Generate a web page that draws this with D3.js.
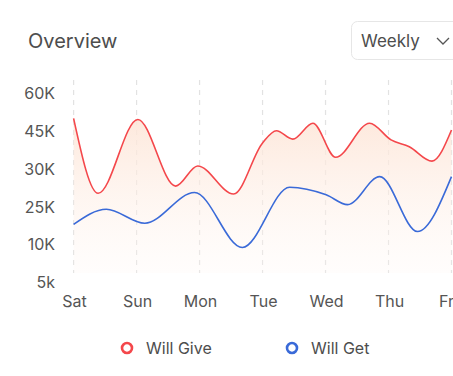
<!DOCTYPE html>
<html>
<head>
<meta charset="utf-8">
<script src="https://cdn.jsdelivr.net/npm/d3@7"></script>
<style>
  body { margin: 0; background: #fff; font-family: Inter, "Open Sans", sans-serif; }
  svg { display: block; }
</style>
</head>
<body>
<svg id="chart" width="453" height="376"></svg>
<script>
// day labels on the x axis
const days = ["Sat", "Sun", "Mon", "Tue", "Wed", "Thu", "Fri"];
// y tick labels (evenly spaced in the original)
const yTicks = [10, 20, 30, 40, 50, 60];
const yLabels = ["5k", "10K", "25K", "30K", "45K", "60K"];

// Will Give (red) - x in day units, y in tick units
const giveX = [0, 0.39, 1.02, 1.62, 1.97, 2.54, 3.0, 3.22, 3.48, 3.80, 4.16, 4.70, 5.04, 5.33, 5.69, 6.0];
const giveY = [53.4, 33.6, 53.1, 35.5, 40.8, 33.4, 46.9, 50.1, 47.9, 52.1, 43.1, 52.1, 47.7, 45.9, 42.1, 50.3];

// Will Get (blue)
const getX = [0, 0.52, 1.13, 1.92, 2.68, 3.43, 4.01, 4.35, 4.86, 5.46, 6.0];
const getY = [25.4, 29.4, 25.7, 33.8, 19.3, 35.2, 33.2, 30.6, 38.0, 23.5, 38.0];

const series = [
    {name: "Will Give", color: "#f4474b", x: giveX, y: giveY},
    {name: "Will Get", color: "#3a6ad8", x: getX, y: getY}
];

const svg = d3.select("#chart");
const plotTop = 80, plotBottom = 273;

const xScale = d3.scaleLinear().domain([0, days.length - 1]).range([73.6, 451.5]);
const yScale = d3.scaleLinear().domain([10, 60]).range([282.7, 93.3]);

// title
svg.append("text")
    .attr("x", 28).attr("y", 48)
    .attr("font-size", "20px")
    .attr("fill", "#4d4d4d")
    .text("Overview");

// dropdown
const dd = svg.append("g");
dd.append("rect")
    .attr("x", 351.5).attr("y", 21.5)
    .attr("width", 120).attr("height", 38)
    .attr("rx", 6)
    .attr("fill", "#fff")
    .attr("stroke", "#e6e6e6");
dd.append("text")
    .attr("x", 361).attr("y", 47)
    .attr("font-size", "17px")
    .attr("fill", "#4d4d4d")
    .text("Weekly");
dd.append("path")
    .attr("d", "M437,38 L443,44 L449,38")
    .attr("fill", "none")
    .attr("stroke", "#555")
    .attr("stroke-width", 1.3);

// gradient under the red line
const defs = svg.append("defs");
const grad = defs.append("linearGradient")
    .attr("id", "fillGrad")
    .attr("x1", 0).attr("y1", 0).attr("x2", 0).attr("y2", 1);
grad.append("stop").attr("offset", "0%").attr("stop-color", "#fde6d8").attr("stop-opacity", 0.9);
grad.append("stop").attr("offset", "100%").attr("stop-color", "#fff5f0").attr("stop-opacity", 0.2);

// vertical dashed grid
svg.append("g")
    .selectAll("line")
    .data(days)
    .join("line")
    .attr("x1", (d, i) => xScale(i)).attr("x2", (d, i) => xScale(i))
    .attr("y1", plotTop).attr("y2", plotBottom)
    .attr("stroke", "#e2e2e2")
    .attr("stroke-width", 1.2)
    .attr("stroke-dasharray", "5,5");

// y axis labels
svg.append("g")
    .selectAll("text")
    .data(yTicks)
    .join("text")
    .attr("x", 55)
    .attr("y", d => yScale(d))
    .attr("dy", "0.35em")
    .attr("text-anchor", "end")
    .attr("font-size", "16px")
    .attr("fill", "#555")
    .text((d, i) => yLabels[i]);

// x axis labels (last one nudged in a bit, like the original)
svg.append("g")
    .selectAll("text")
    .data(days)
    .join("text")
    .attr("x", (d, i) => xScale(i) + (i === days.length - 1 ? -3 : 1))
    .attr("y", 307)
    .attr("text-anchor", "middle")
    .attr("font-size", "16px")
    .attr("fill", "#555")
    .text(d => d);

const pts = s => s.x.map((v, i) => [xScale(v), yScale(s.y[i])]);

const area = d3.area()
    .curve(d3.curveMonotoneX)
    .x(d => d[0])
    .y0(plotBottom)
    .y1(d => d[1]);

svg.append("path")
    .attr("d", area(pts(series[0])))
    .attr("fill", "url(#fillGrad)");

const line = d3.line().curve(d3.curveMonotoneX);

svg.append("g")
    .selectAll("path")
    .data(series)
    .join("path")
    .attr("d", s => line(pts(s)))
    .attr("fill", "none")
    .attr("stroke", s => s.color)
    .attr("stroke-width", 1.6);

// legend
const legend = svg.append("g")
    .selectAll("g")
    .data(series)
    .join("g")
    .attr("transform", (d, i) => `translate(${127 + i * 165}, 348)`);
legend.append("circle")
    .attr("r", 5)
    .attr("fill", "#fff")
    .attr("stroke", d => d.color)
    .attr("stroke-width", 2.6);
legend.append("text")
    .attr("x", 19)
    .attr("dy", "0.35em")
    .attr("font-size", "16px")
    .attr("fill", "#4d4d4d")
    .text(d => d.name);
</script>
</body>
</html>
